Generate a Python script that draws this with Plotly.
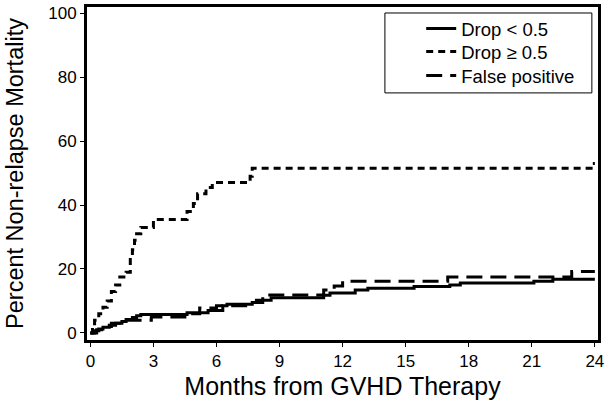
import plotly.graph_objects as go

# Drop < 0.5 (solid)
low_x = [0, 0.2, 0.4, 0.6, 0.9, 1.2, 1.5, 1.7, 2.0, 2.2, 2.4, 4.6, 5.6, 6.3, 6.5, 7.7, 7.9, 8.6, 11.1, 11.4, 12.6, 13.2, 15.4, 17.1, 17.6, 21.1, 22.0, 24.0]
low_y = [0, 0.7, 1.2, 1.8, 2.4, 3.0, 3.6, 4.2, 4.8, 5.4, 5.8, 6.3, 7.0, 8.5, 9.0, 9.5, 10.2, 11.0, 11.8, 12.5, 13.4, 14.0, 14.5, 15.0, 15.6, 16.2, 16.8, 16.8]

# Drop >= 0.5 (short dash)
high_x = [0, 0.1, 0.2, 0.4, 0.6, 0.8, 1.0, 1.2, 1.4, 1.7, 1.9, 2.0, 2.1, 2.2, 2.4, 3.0, 4.6, 4.9, 5.1, 5.5, 5.8, 7.6, 7.7, 23.9, 24.0]
high_y = [0, 2, 4, 6, 8, 10, 13, 15, 17.5, 19, 23, 26, 29, 31, 33, 35.5, 38, 40.5, 43.5, 45.5, 47, 49, 51.5, 53, 53]

# False positive (long dash)
fp_x = [0, 0.3, 0.7, 1.0, 1.5, 2.9, 4.6, 5.2, 6.0, 7.6, 8.2, 11.1, 11.6, 12.0, 17.0, 22.9, 24.0]
fp_y = [0, 1, 2, 3, 4, 5, 6, 7.8, 8.5, 9.5, 11.9, 13.4, 14.7, 16.2, 17.5, 19.2, 19.2]

x_ticks = [0, 3, 6, 9, 12, 15, 18, 21, 24]
y_ticks = [0, 20, 40, 60, 80, 100]

fig = go.Figure()
fig.add_trace(go.Scatter(x=low_x, y=low_y, mode='lines', name='Drop < 0.5', legend='legend',
                         line=dict(color='black', width=3, shape='hv')))
fig.add_trace(go.Scatter(x=high_x, y=high_y, mode='lines', name='Drop ≥ 0.5', legend='legend2',
                         line=dict(color='black', width=3, shape='hv', dash='7px,5px')))
fig.add_trace(go.Scatter(x=fp_x, y=fp_y, mode='lines', name='False positive', legend='legend3',
                         line=dict(color='black', width=3, shape='hv', dash='16px,8px')))

# one legend per row so the rows sit as tightly as in the original
leg = dict(x=0.654, xanchor='left', yanchor='top', borderwidth=0,
           bgcolor='rgba(0,0,0,0)', font=dict(size=18.5))

fig.update_layout(
    width=610, height=409,
    margin=dict(l=87, r=12, t=7, b=69, autoexpand=False),
    plot_bgcolor='white', paper_bgcolor='white',
    font=dict(family='Liberation Sans, Arial', color='black', size=17),
    showlegend=True,
    legend=dict(leg, y=0.991),
    legend2=dict(leg, y=0.922),
    legend3=dict(leg, y=0.850),
)
# legend frame, drawn separately so it can be wider than plotly's own box
fig.add_shape(type='rect', xref='paper', yref='paper', x0=0.583, x1=0.988, y0=0.742, y1=0.982,
              line=dict(color='black', width=1), fillcolor='white', layer='below')

fig.update_xaxes(range=[-0.16, 24.15], tickvals=x_ticks, showgrid=False, zeroline=False,
                 showline=True, linecolor='black', linewidth=3, mirror=True,
                 ticks='outside', ticklen=4, tickcolor='black', tickwidth=1, automargin=False,
                 title=dict(text='Months from GVHD Therapy', font=dict(size=25), standoff=8))
fig.update_yaxes(range=[-2.2, 101.9], tickvals=y_ticks, showgrid=False, zeroline=False,
                 showline=True, linecolor='black', linewidth=3, mirror=True,
                 ticks='outside', ticklen=4, tickcolor='black', tickwidth=1, automargin=False,
                 title=dict(text='Percent Non-relapse Mortality', font=dict(size=23.5), standoff=18))

# page body has a default 8px margin; drop it so the figure sits at the corner
fig.write_html("out.html", config={'displayModeBar': False},
               post_script="document.body.style.margin='0';")
